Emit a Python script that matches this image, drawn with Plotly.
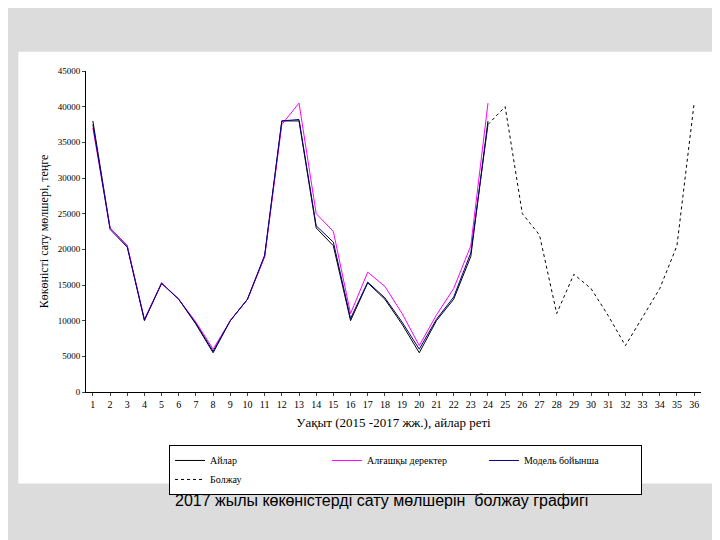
import plotly.graph_objects as go

months = list(range(1, 37))
actual = [38000, 23000, 20500, 10000, 15300, 13000, 9500, 5500, 10000, 13000, 19000, 38000,
          38000, 23000, 20500, 10000, 15300, 13000, 9500, 5500, 10000, 13000, 19000, 38000]
initial = [37000, 23000, 20500, 10200, 15300, 13000, 9800, 6000, 10000, 13000, 19000, 37500,
           40500, 25000, 22500, 11000, 16800, 14800, 11000, 6500, 10800, 14500, 20500, 40500]
model = [37500, 22800, 20300, 10100, 15200, 13000, 9600, 5700, 10000, 13000, 19200, 38000,
         38200, 23300, 21000, 10300, 15400, 13200, 9800, 6000, 10200, 13300, 19500, 37500]
forecast_x = list(range(24, 37))
forecast = [37500, 40000, 25000, 22000, 11000, 16500, 14500, 10700, 6500, 10500, 14500, 20500, 40500]
yticks = [0, 5000, 10000, 15000, 20000, 25000, 30000, 35000, 40000, 45000]

fig = go.Figure()
fig.add_trace(go.Scatter(x=months[:24], y=actual, mode="lines", name="Айлар",
                         line=dict(color="black", width=1)))
fig.add_trace(go.Scatter(x=months[:24], y=initial, mode="lines", name="Алғашқы деректер",
                         line=dict(color="#ff00ff", width=1)))
fig.add_trace(go.Scatter(x=months[:24], y=model, mode="lines", name="Модель бойынша",
                         line=dict(color="#000080", width=1)))
fig.add_trace(go.Scatter(x=forecast_x, y=forecast, mode="lines", name="Болжау",
                         line=dict(color="black", width=1, dash="dot")))

fig.add_shape(type="rect", xref="paper", yref="paper", x0=-0.11, x1=1.045, y0=-0.285, y1=1.06,
              fillcolor="white", line=dict(width=0), layer="below")

fig.update_layout(
    width=720, height=540,
    paper_bgcolor="#dcdcdc", plot_bgcolor="white",
    margin=dict(l=78, r=27, t=63, b=156),
    font=dict(family="Liberation Serif", size=10, color="black"),
    showlegend=True,
    legend=dict(orientation="h", x=0.135, y=-0.165, xanchor="left", yanchor="top",
                bordercolor="black", borderwidth=1, bgcolor="white",
                font=dict(size=10), entrywidth=112, itemwidth=30),
    xaxis=dict(range=[0.6, 36.4], tickmode="array", tickvals=months, showgrid=False,
               showline=True, linecolor="black", ticks="outside", ticklen=3,
               title=dict(text="Уақыт (2015 -2017 жж.), айлар реті", font=dict(size=13), standoff=8),
               zeroline=False),
    yaxis=dict(range=[0, 45000], tickmode="array", tickvals=yticks, tickformat="d",
               showgrid=False, showline=True, linecolor="black", ticks="outside", ticklen=3,
               tickfont=dict(size=9),
               title=dict(text="Көкөністі сату мөлшері, теңге", font=dict(size=12), standoff=6),
               zeroline=False),
)
fig.add_annotation(text="2017 жылы көкөністерді сату мөлшерін  болжау графигі",
                   xref="paper", yref="paper", x=0.48, y=-0.37, showarrow=False,
                   font=dict(family="Liberation Sans", size=16, color="black"))
fig.write_html("out.html")
